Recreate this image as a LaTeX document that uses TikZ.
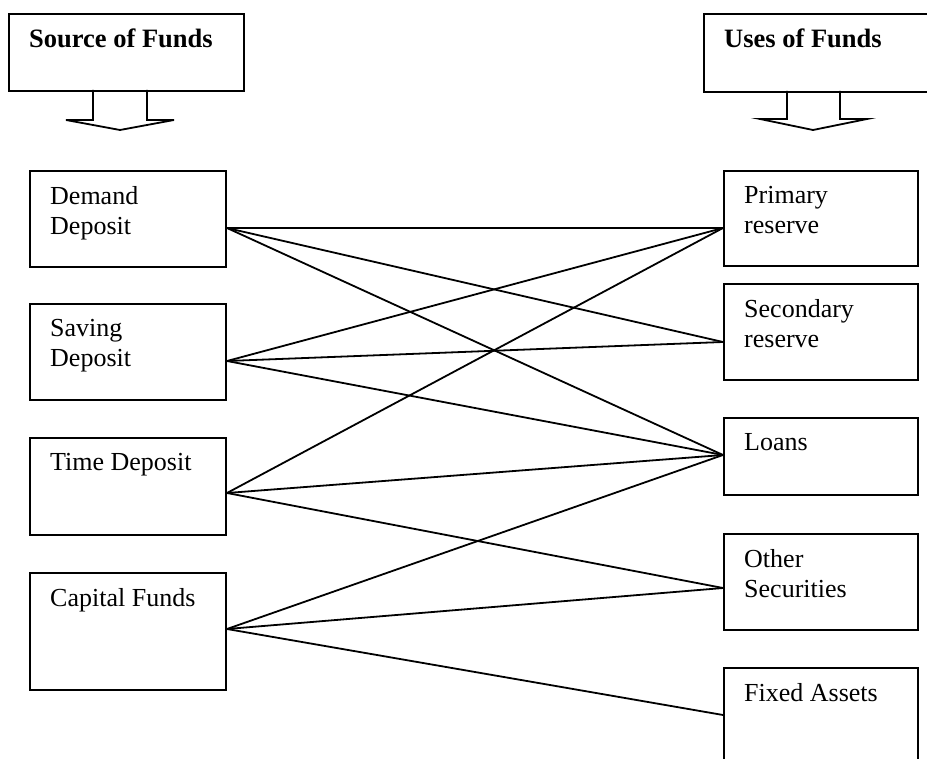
\documentclass[tikz,border=0pt]{standalone}
\usepackage{fontspec}
\setmainfont{Liberation Serif}
\usetikzlibrary{positioning}

\begin{document}
\begin{tikzpicture}[%
    x=1pt, y=-1pt,
    every node/.style={%
      font=\fontsize{26pt}{30pt}\selectfont,
      text=black,
      align=left,
      inner sep=0pt
    },
    frame/.style={draw=black, line width=2pt, anchor=north west},
    tag/.style={below right=16pt and 21pt of #1.north west},
    link/.style={black, line width=1.8pt}
  ]

  \useasboundingbox (0,0) rectangle (927,759);
  \clip (0,0) rectangle (927,759);

  % Headers
  \node[frame, minimum width=235pt, minimum height=77pt] (h1) at (8,13) {};
  \node[frame, minimum width=240pt, minimum height=78pt] (h2) at (703,13) {};
  \node[tag=h1, font=\fontsize{26.5pt}{30pt}\selectfont\bfseries] (h1t) {Source of Funds};
  \node[tag=h2, font=\fontsize{26.5pt}{30pt}\selectfont\bfseries] (h2t) {Uses of Funds};

  % Block arrows
  \draw[link] (93,90) -- (93,120) -- (66,120) -- (120,130) -- (174,120)
    -- (147,120) -- (147,90);
  \draw[link] (787,91) -- (787,119) -- (760,119) -- (813,130) -- (867,119)
    -- (840,119) -- (840,91);

  % Sources
  \node[frame, minimum width=196pt, minimum height=96pt] (s1) at (29,170) {};
  \node[frame, minimum width=196pt, minimum height=96pt] (s2) at (29,303) {};
  \node[frame, minimum width=196pt, minimum height=97pt] (s3) at (29,437) {};
  \node[frame, minimum width=196pt, minimum height=117pt] (s4) at (29,572) {};
  \node[tag=s1] (s1t) {Demand\\Deposit};
  \node[tag=s2] (s2t) {Saving\\Deposit};
  \node[tag=s3] (s3t) {Time Deposit};
  \node[tag=s4] (s4t) {Capital Funds};

  % Uses
  \node[frame, minimum width=194pt, minimum height=95pt] (u1) at (723,170) {};
  \node[frame, minimum width=194pt, minimum height=96pt] (u2) at (723,283) {};
  \node[frame, minimum width=194pt, minimum height=77pt] (u3) at (723,417) {};
  \node[frame, minimum width=194pt, minimum height=96pt] (u4) at (723,533) {};
  \node[frame, minimum width=194pt, minimum height=120pt] (u5) at (723,667) {};
  \node[tag=u1] (u1t) {Primary\\reserve};
  \node[tag=u2] (u2t) {Secondary\\reserve};
  \node[tag=u3] (u3t) {Loans};
  \node[tag=u4] (u4t) {Other\\Securities};
  \node[tag=u5] (u5t) {Fixed Assets};

  % Ends of the links
  \coordinate (o1) at ([yshift=-58pt]s1.north east);
  \coordinate (o2) at ([yshift=-58pt]s2.north east);
  \coordinate (o3) at ([yshift=-56pt]s3.north east);
  \coordinate (o4) at ([yshift=-57pt]s4.north east);
  \coordinate (i1) at ([yshift=-58pt]u1.north west);
  \coordinate (i2) at ([yshift=-59pt]u2.north west);
  \coordinate (i3) at ([yshift=-38pt]u3.north west);
  \coordinate (i4) at ([yshift=-55pt]u4.north west);
  \coordinate (i5) at ([yshift=-48pt]u5.north west);

  \draw[link] (o1) -- (i1);
  \draw[link] (o1) -- (i2);
  \draw[link] (o1) -- (i3);
  \draw[link] (o2) -- (i1);
  \draw[link] (o2) -- (i2);
  \draw[link] (o2) -- (i3);
  \draw[link] (o3) -- (i1);
  \draw[link] (o3) -- (i3);
  \draw[link] (o3) -- (i4);
  \draw[link] (o4) -- (i3);
  \draw[link] (o4) -- (i4);
  \draw[link] (o4) -- (i5);

\end{tikzpicture}
\end{document}
